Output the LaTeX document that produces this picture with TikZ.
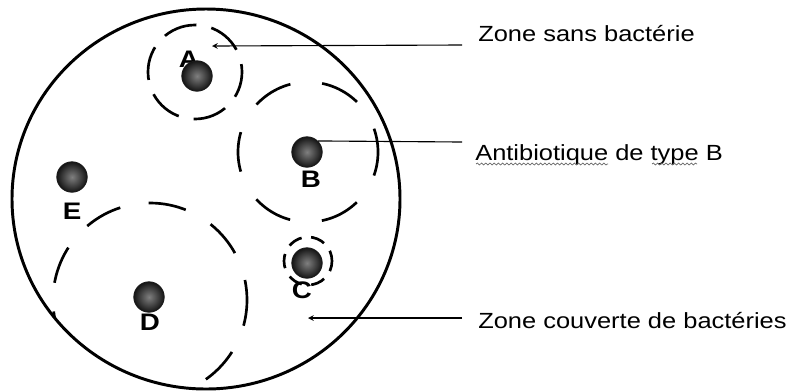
\documentclass[tikz,border=0pt]{standalone}
\usepackage{fontspec}
\setmainfont{Liberation Sans}
\newfontfamily\etirefont[FakeStretch=1.16]{Liberation Sans}
\usetikzlibrary{decorations.pathmorphing}

\tikzset{
  pastille/.style={circle, inner color=black!50, outer color=black!92, draw=black!90, line width=0.6pt, minimum size=0.76cm, inner sep=0pt},
  lettre/.style={font=\etirefont\bfseries\fontsize{17}{17}\selectfont, inner sep=0pt},
  legende/.style={font=\etirefont\fontsize{15.6}{18}\selectfont, inner sep=0pt, anchor=base west},
  zone/.style={line width=1.9pt},
  fleche/.style={line width=0.8pt},
  souligne/.style={black!60, line width=0.5pt, decorate, decoration={snake, amplitude=0.7pt, segment length=3pt}}
}

\begin{document}
\begin{tikzpicture}[x=0.025cm, y=-0.025cm, >=stealth]
    \useasboundingbox (0,0) rectangle (794,391);

    % Boite de Petri
    \draw[line width=2.1pt] (206,199) ellipse (194 and 190);

    % Zones d'inhibition
    \draw[zone, dash pattern=on 0.85cm off 0.38cm, dash phase=0.2cm] (195,72) circle (47);
    \draw[zone, dash pattern=on 1cm off 0.8cm, dash phase=0.4cm] (308,152) circle (70);
    \draw[zone, dash pattern=on 0.36cm off 0.24cm, dash phase=0.1cm] (308,261) circle (24);
    \begin{scope}
        \clip (206,199) ellipse (194 and 190);
        \draw[zone, dash pattern=on 0.95cm off 0.72cm, dash phase=0.3cm] (150,300) circle (97);
    \end{scope}

    % Pastilles d'antibiotique
    \node[lettre] (lA) at (189,59) {A};
    \node[pastille] (pastA) at (197,76) {};
    \node[pastille] (pastB) at (307,152) {};
    \node[pastille] (pastC) at (307,263) {};
    \node[pastille] (pastD) at (149,297) {};
    \node[pastille] (pastE) at (72,177) {};
    \node[lettre] (lB) at (311,179) {B};
    \node[lettre] (lC) at (302,290) {C};
    \node[lettre] (lD) at (150,322) {D};
    \node[lettre] (lE) at (72,211) {E};

    % Legendes
    \node[legende] (zoneSans) at (478,41) {Zone sans bactérie};
    \node[legende] (antiB) at (475,160) {Antibiotique de type B};
    \node[legende] (zoneCouv) at (478,328) {Zone couverte de bactéries};
    \draw[souligne] (476,164) -- (608,164);
    \draw[souligne] (652,164) -- (697,164);

    \coordinate (bordSans) at (462,45);
    \coordinate (pointA) at (212,46);
    \coordinate (bordAnti) at (462,142);
    \coordinate (bordCouv) at (462,318);
    \coordinate (pointC) at (308,318);
    \draw[fleche, ->] (bordSans) -- (pointA);
    \draw[fleche] (bordAnti) -- (pastB.north east);
    \draw[fleche, ->] (bordCouv) -- (pointC);
\end{tikzpicture}
\end{document}
